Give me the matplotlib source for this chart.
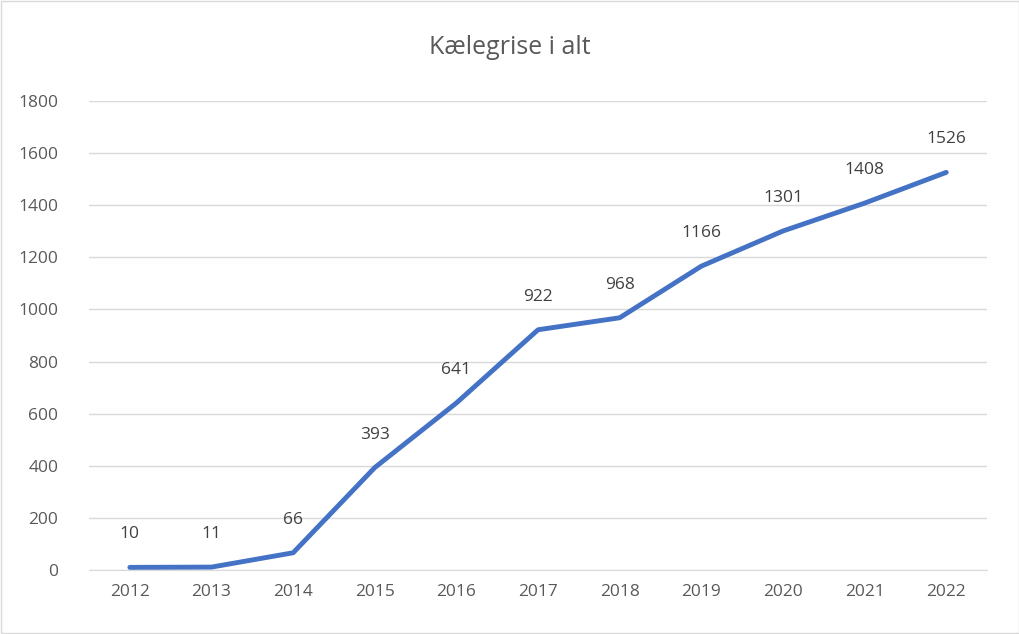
import matplotlib
matplotlib.use("Agg")
import matplotlib.pyplot as plt
from matplotlib.patches import Rectangle

years = ["2012","2013","2014","2015","2016","2017","2018","2019","2020","2021","2022"]
values = [10, 11, 66, 393, 641, 922, 968, 1166, 1301, 1408, 1526]
yticks = [0, 200, 400, 600, 800, 1000, 1200, 1400, 1600, 1800]

plt.rcParams["font.family"] = "Open Sans"
fig = plt.figure(figsize=(10.2, 6.34), dpi=100)
ax = fig.add_axes([0.0873, 0.101, 0.8804, 0.7397])
x = list(range(len(years)))
ax.plot(x, values, color="#4472C4", lw=3.5, solid_capstyle="round", zorder=3)
for xi, v in zip(x, values):
    ax.annotate(str(v), (xi, v), xytext=(0, 18), textcoords="offset points",
                ha="center", va="bottom", fontsize=12.5, color="#404040")
ax.set_xlim(-0.5, len(years) - 0.5)
ax.set_ylim(0, 1800)
ax.set_yticks(yticks)
ax.set_xticks(x)
ax.set_xticklabels(years)
ax.grid(axis="y", color="#D9D9D9", lw=1)
ax.set_axisbelow(True)
for s in ["top", "right", "left"]:
    ax.spines[s].set_visible(False)
ax.spines["bottom"].set_color("#D9D9D9")
ax.tick_params(length=0, labelsize=12.5, labelcolor="#595959", pad=10)
ax.tick_params(axis="y", pad=22)
fig.text(0.5, 0.925, "Kælegrise i alt", ha="center", va="center", fontsize=18, color="#595959")
fig.patches.append(Rectangle((0.001, 0.001), 0.998, 0.998, transform=fig.transFigure,
                             fill=False, edgecolor="#D9D9D9", lw=1))
fig.savefig("out.png", dpi=100)
